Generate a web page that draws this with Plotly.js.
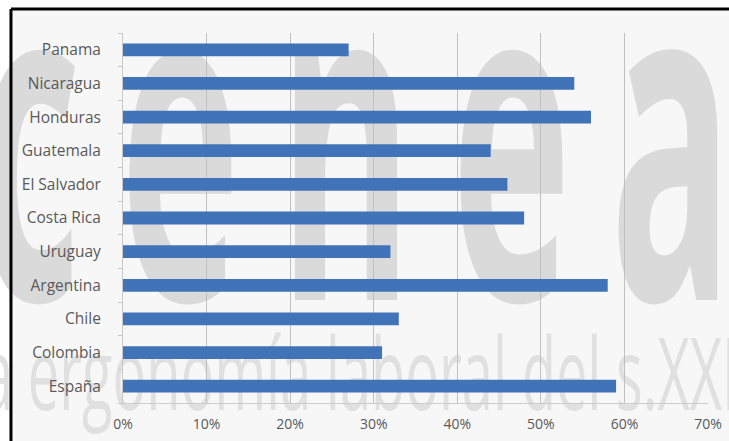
<!DOCTYPE html>
<html>
<head>
<meta charset="utf-8">
<script src="https://cdn.plot.ly/plotly-3.0.1.min.js"></script>
<style>
  html, body { margin: 0; padding: 0; background: #ffffff; }
  #chart { width: 729px; height: 441px; }
  /* narrow, widely spaced lettering for the background brand marks */
  #chart .annotation[data-index="0"] text {
    letter-spacing: 87px;
    transform-box: fill-box; transform-origin: center; transform: scaleX(0.45);
  }
  #chart .annotation[data-index="1"] text {
    transform-box: fill-box; transform-origin: left center; transform: scaleX(0.56);
  }
</style>
</head>
<body>
<div id="chart"></div>
<script>
// Countries, listed bottom to top as they appear on the category axis
const countries = ['España', 'Colombia', 'Chile', 'Argentina', 'Uruguay', 'Costa Rica',
                   'El Salvador', 'Guatemala', 'Honduras', 'Nicaragua', 'Panama'];
// Share per country (fraction of 1)
const shares = [0.59, 0.31, 0.33, 0.58, 0.32, 0.48, 0.46, 0.44, 0.56, 0.54, 0.27];
// Percentage axis ticks
const tickValues = [0, 0.1, 0.2, 0.3, 0.4, 0.5, 0.6, 0.7];
const tickLabels = ['0%', '10%', '20%', '30%', '40%', '50%', '60%', '70%'];
// Background brand marks
const brandWord = 'cenea';
const brandTagline = 'a ergonomía laboral del s.XXI';

const textGray = '#595959';

const trace = {
  type: 'bar',
  orientation: 'h',
  y: countries,
  x: shares,
  marker: { color: '#4073b8', line: { width: 0 } },
  hoverinfo: 'x+y'
};

const layout = {
  width: 729,
  height: 441,
  margin: { l: 123, r: 21, t: 33, b: 38, pad: 0 },
  paper_bgcolor: '#ffffff',
  plot_bgcolor: 'rgba(0,0,0,0)',
  bargap: 0.62,
  showlegend: false,
  font: { family: 'Open Sans, Liberation Sans, sans-serif', size: 14, color: textGray },
  xaxis: {
    range: [0, 0.7],
    tickvals: tickValues,
    ticktext: tickLabels,
    showgrid: true,
    gridcolor: '#c0c0c0',
    gridwidth: 1,
    zeroline: false,
    showline: true,
    linecolor: '#cccccc',
    linewidth: 1,
    ticks: '',
    ticklabelstandoff: 8,
    tickfont: { size: 14, color: textGray },
    fixedrange: true
  },
  yaxis: {
    type: 'category',
    categoryorder: 'array',
    categoryarray: countries,
    showgrid: false,
    zeroline: false,
    showline: true,
    linecolor: '#c8c8c8',
    linewidth: 1,
    ticks: 'outside',
    tickson: 'boundaries',
    ticklen: 4,
    tickcolor: '#c8c8c8',
    ticklabelstandoff: 18,
    tickfont: { size: 15.5, color: textGray },
    fixedrange: true
  },
  shapes: [
    // light panel behind the chart
    {
      type: 'rect', xref: 'paper', yref: 'paper', layer: 'below',
      x0: -0.1915, x1: 1.2, y0: -0.2, y1: 1.065,
      fillcolor: '#f7f7f7', line: { width: 0 }
    },
    // frame: left and top edges
    {
      type: 'line', xref: 'paper', yref: 'paper', layer: 'above',
      x0: -0.1915, x1: -0.1915, y0: -0.2, y1: 1.065,
      line: { color: '#000000', width: 3 }
    },
    {
      type: 'line', xref: 'paper', yref: 'paper', layer: 'above',
      x0: -0.1915, x1: 1.2, y0: 1.065, y1: 1.065,
      line: { color: '#000000', width: 3 }
    }
  ],
  annotations: [
    {
      text: brandWord, xref: 'paper', yref: 'paper',
      x: 0.43, y: 0.751, xanchor: 'center', yanchor: 'middle',
      showarrow: false,
      font: { family: 'Open Sans, sans-serif', size: 450, weight: 700, color: '#dadada' }
    },
    {
      text: brandTagline, xref: 'paper', yref: 'paper',
      x: -0.245, y: 0.086, xanchor: 'left', yanchor: 'middle',
      showarrow: false,
      font: { family: 'Open Sans, sans-serif', size: 100, color: '#e0e0e0' }
    }
  ]
};

Plotly.newPlot('chart', [trace], layout, { displayModeBar: false, staticPlot: true }).then(gd => {
  // keep the brand marks underneath the bars and axis labels
  const below = gd.querySelector('.layer-below');
  gd.querySelectorAll('.annotation').forEach(node => below.appendChild(node));
});
</script>
</body>
</html>
